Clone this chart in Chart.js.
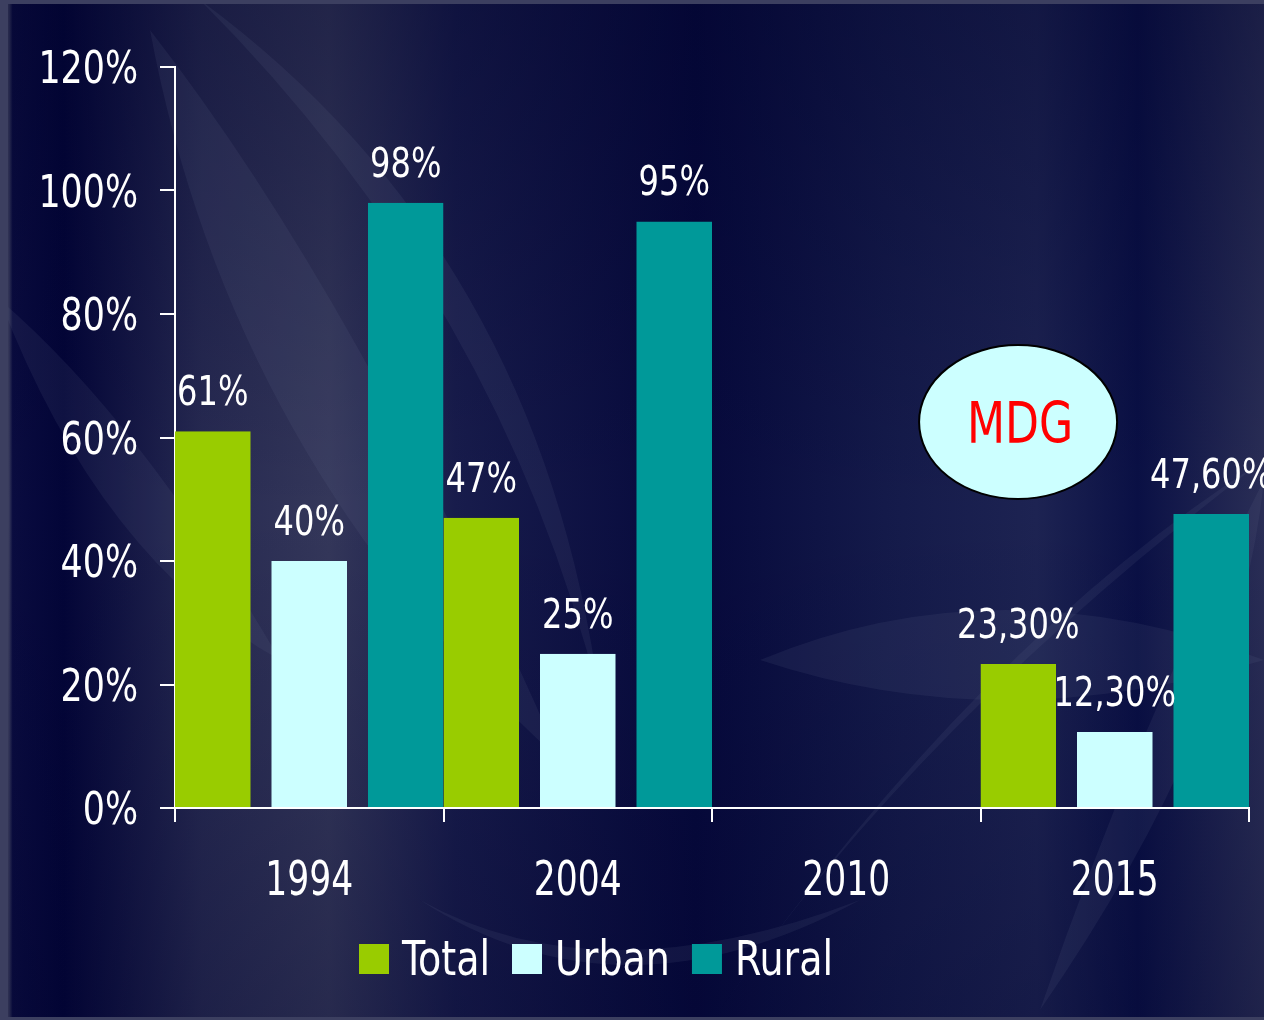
<!DOCTYPE html>
<html>
<head>
<meta charset="utf-8">
<script src="https://cdn.jsdelivr.net/npm/chart.js@4.4.0/dist/chart.umd.min.js"></script>
<style>
html, body { margin: 0; padding: 0; background: #05083a; }
#wrap { width: 1264px; height: 1020px; }
</style>
</head>
<body>
<div id="wrap"><canvas id="chart" width="1264" height="1020"></canvas></div>
<script>
// Donnees
const years = ['1994', '2004', '2010', '2015'];
const totalValues = [61, 47, null, 23.3];
const urbanValues = [40, 25, null, 12.3];
const ruralValues = [98, 95, null, 47.6];
const yTickMax = 120;
const yTickStep = 20;

// Annotation MDG (en coordonnees de donnees)
const mdgText = 'MDG';
const mdgAt = { x: 2.64, y: 62.5 };

const FONT = "'DejaVu Sans Condensed', 'Liberation Sans Narrow', sans-serif";
const GAP = 14; // espace entre barres d'un meme groupe

function fmtPct(v) {
    if (v === null) return '';
    return (Number.isInteger(v) ? String(v) : v.toFixed(2).replace('.', ',')) + '%';
}

// Texte compresse horizontalement (police etroite facon Arial Narrow)
function narrowText(ctx, text, x, y, size, sx, align) {
    ctx.save();
    ctx.font = `${size}px ${FONT}`;
    ctx.translate(x, y);
    ctx.scale(sx, 1);
    ctx.textAlign = align;
    ctx.textBaseline = 'alphabetic';
    ctx.fillText(text, 0, 0);
    ctx.restore();
}

// Fond bleu nuit avec motifs clairs
const backgroundPlugin = {
    id: 'background',
    beforeDraw(chart) {
        const { ctx, width, height } = chart;
        ctx.save();
        const g = ctx.createLinearGradient(0, 0, width, 0);
        g.addColorStop(0, '#3a3d5e');
        g.addColorStop(0.007, '#3a3d5e');
        g.addColorStop(0.01, '#0a0c40');
        g.addColorStop(0.05, '#030538');
        g.addColorStop(0.16, '#272a52');
        g.addColorStop(0.26, '#34375a');
        g.addColorStop(0.36, '#181c4c');
        g.addColorStop(0.55, '#06093c');
        g.addColorStop(0.7, '#141a4a');
        g.addColorStop(0.82, '#1d2352');
        g.addColorStop(0.9, '#0a1045');
        g.addColorStop(1, '#2a2e56');
        ctx.fillStyle = g;
        ctx.fillRect(0, 0, width, height);

        const v = ctx.createLinearGradient(0, 0, 0, height);
        v.addColorStop(0, 'rgba(0,2,40,0.35)');
        v.addColorStop(0.5, 'rgba(0,2,40,0)');
        v.addColorStop(1, 'rgba(0,2,40,0.25)');
        ctx.fillStyle = v;
        ctx.fillRect(0, 0, width, height);

        // feuilles claires, tres discretes
        ctx.fillStyle = 'rgba(110,115,150,0.12)';
        const leaf = (p) => {
            ctx.beginPath();
            ctx.moveTo(p[0], p[1]);
            ctx.quadraticCurveTo(p[2], p[3], p[4], p[5]);
            ctx.quadraticCurveTo(p[6], p[7], p[0], p[1]);
            ctx.fill();
        };
        leaf([150, 30, 230, 460, 560, 760, 360, 300, 150, 30]);
        leaf([200, 0, 500, 300, 600, 700, 540, 250, 200, 0]);
        leaf([0, 300, 100, 560, 280, 660, 140, 420, 0, 300]);
        leaf([420, 900, 600, 1000, 860, 900, 620, 1030, 420, 900]);
        leaf([720, 1010, 920, 720, 1264, 460, 980, 640, 720, 1010]);
        leaf([760, 660, 1000, 560, 1264, 660, 1000, 740, 760, 660]);
        leaf([1040, 1010, 1140, 720, 1264, 480, 1240, 720, 1040, 1010]);

        // cadre
        ctx.fillStyle = '#3c3f60';
        ctx.fillRect(0, 0, width, 4);
        ctx.fillRect(0, 0, 8, height);
        ctx.fillRect(0, height - 3, width, 3);
        ctx.restore();
    }
};

// Libelles des axes, dessines en police etroite a partir des graduations
const axisLabelPlugin = {
    id: 'axisLabels',
    afterDraw(chart) {
        const { ctx, scales } = chart;
        ctx.save();
        ctx.fillStyle = '#ffffff';
        scales.y.ticks.forEach((t, i) => {
            const y = scales.y.getPixelForTick(i);
            narrowText(ctx, t.label, scales.y.right - 37, y + 16, 45, 0.86, 'right');
        });
        scales.x.ticks.forEach((t, i) => {
            const x = scales.x.getPixelForTick(i);
            narrowText(ctx, scales.x.getLabelForValue(t.value), x, scales.x.top + 87, 48, 0.8, 'center');
        });
        ctx.restore();
    }
};

// Etiquettes de valeurs au-dessus des barres
const valueLabelPlugin = {
    id: 'valueLabels',
    afterDatasetsDraw(chart) {
        const { ctx } = chart;
        ctx.save();
        ctx.fillStyle = '#ffffff';
        chart.data.datasets.forEach((ds, i) => {
            const meta = chart.getDatasetMeta(i);
            const bw = ds.borderWidth;
            meta.data.forEach((bar, j) => {
                const v = ds.data[j];
                if (v === null || v === undefined) return;
                const left = bar.x - bar.width / 2 + bw.left;
                const right = bar.x + bar.width / 2 - bw.right;
                narrowText(ctx, fmtPct(v), (left + right) / 2, bar.y - 26, 41, 0.87, 'center');
            });
        });
        ctx.restore();
    }
};

// Ellipse MDG
const mdgPlugin = {
    id: 'mdg',
    afterDraw(chart) {
        const { ctx, scales } = chart;
        const cx = scales.x.getPixelForValue(mdgAt.x);
        const cy = scales.y.getPixelForValue(mdgAt.y);
        ctx.save();
        ctx.beginPath();
        ctx.ellipse(cx, cy, 99, 77, 0, 0, Math.PI * 2);
        ctx.fillStyle = '#ccffff';
        ctx.fill();
        ctx.lineWidth = 2;
        ctx.strokeStyle = '#000000';
        ctx.stroke();
        ctx.fillStyle = '#ff0000';
        narrowText(ctx, mdgText, cx + 2, cy + 21, 57, 0.86, 'center');
        ctx.restore();
    }
};

// Legende dessinee a la main
const legendPlugin = {
    id: 'customLegend',
    afterDraw(chart) {
        const { ctx } = chart;
        const size = 48, sx = 0.88;
        ctx.save();
        ctx.font = `${size}px ${FONT}`;
        let x = 359;
        const boxTop = 944, box = 30, baseline = 975;
        chart.data.datasets.forEach(ds => {
            ctx.fillStyle = ds.backgroundColor;
            ctx.fillRect(x, boxTop, box, box);
            x += box + 13;
            ctx.fillStyle = '#ffffff';
            narrowText(ctx, ds.label, x, baseline, size, sx, 'left');
            ctx.font = `${size}px ${FONT}`;
            x += ctx.measureText(ds.label).width * sx + 22;
        });
        ctx.restore();
    }
};

const transparent = 'rgba(0,0,0,0)';

new Chart(document.getElementById('chart').getContext('2d'), {
    type: 'bar',
    data: {
        labels: years,
        datasets: [
            {
                label: 'Total',
                data: totalValues,
                backgroundColor: '#99cc00',
                borderColor: transparent,
                borderWidth: { top: 0, right: GAP, bottom: 0, left: 0 }
            },
            {
                label: 'Urban',
                data: urbanValues,
                backgroundColor: '#ccffff',
                borderColor: transparent,
                borderWidth: { top: 0, right: GAP / 2, bottom: 0, left: GAP / 2 }
            },
            {
                label: 'Rural',
                data: ruralValues,
                backgroundColor: '#009999',
                borderColor: transparent,
                borderWidth: { top: 0, right: 0, bottom: 0, left: GAP }
            }
        ]
    },
    options: {
        responsive: false,
        animation: false,
        layout: { padding: { top: 67, right: 15, left: 0, bottom: 0 } },
        datasets: {
            bar: { categoryPercentage: 1, barPercentage: 1, inflateAmount: 0 }
        },
        plugins: {
            legend: { display: false },
            tooltip: { enabled: false }
        },
        scales: {
            x: {
                grid: { offset: true, drawOnChartArea: false, color: '#ffffff', lineWidth: 2, tickLength: 14 },
                border: { color: '#ffffff', width: 2 },
                ticks: { color: transparent, font: { family: FONT, size: 48 }, padding: 22 },
                afterFit: s => { s.height = 212; }
            },
            y: {
                min: 0,
                max: yTickMax,
                ticks: {
                    stepSize: yTickStep,
                    color: transparent,
                    font: { family: FONT, size: 45 },
                    padding: 22,
                    callback: v => v + '%'
                },
                grid: { drawOnChartArea: false, color: '#ffffff', lineWidth: 2, tickLength: 15 },
                border: { color: '#ffffff', width: 2 },
                afterFit: s => { s.width = 175; }
            }
        }
    },
    plugins: [backgroundPlugin, valueLabelPlugin, axisLabelPlugin, mdgPlugin, legendPlugin]
});
</script>
</body>
</html>
